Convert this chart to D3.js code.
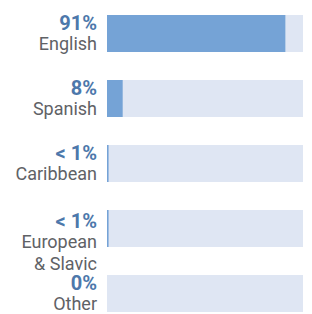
<!DOCTYPE html>
<html>
<head>
<meta charset="utf-8">
<script src="https://cdn.jsdelivr.net/npm/d3@7"></script>
<style>
  body { margin: 0; background: #fff; }
  svg { display: block; font-family: Roboto, "Noto Sans", sans-serif; }
</style>
</head>
<body>
<div id="chart"></div>
<script>
// chart data
const categories = ['English', 'Spanish', 'Caribbean', 'European & Slavic', 'Other'];
const labelLines = [['English'], ['Spanish'], ['Caribbean'], ['European', '& Slavic'], ['Other']];
const shares = [91, 8, 0.8, 0.8, 0];
const shareLabels = ['91%', '8%', '< 1%', '< 1%', '0%'];

const width = 312, height = 314;
const colors = {
    fill: '#75a3d6',
    track: '#dfe6f3',
    pct: '#4d78ab',
    label: '#5f6266'
};

const svg = d3.select('#chart')
    .append('svg')
    .attr('width', width)
    .attr('height', height);

const x = d3.scaleLinear()
    .domain([0, 100])
    .range([107, 303]);

const y = d3.scaleBand()
    .domain(categories)
    .range([15, 312])
    .paddingInner(28 / 65)
    .paddingOuter(0);

const rows = svg.selectAll('g.row')
    .data(categories.map((c, i) => ({cat: c, value: shares[i], pct: shareLabels[i], lines: labelLines[i]})))
    .enter()
    .append('g')
    .attr('class', 'row')
    .attr('transform', d => `translate(0,${y(d.cat)})`);

// background track
rows.append('rect')
    .attr('x', x(0))
    .attr('width', x(100) - x(0))
    .attr('height', y.bandwidth())
    .attr('fill', colors.track);

// value bar
rows.append('rect')
    .attr('x', x(0))
    .attr('width', d => x(d.value) - x(0))
    .attr('height', y.bandwidth())
    .attr('fill', colors.fill);

// label block sits a little lower when the name wraps
const shift = d => (d.lines.length - 1) * 3;

// percentage
rows.append('text')
    .attr('x', 97)
    .attr('y', d => 15 + shift(d))
    .attr('text-anchor', 'end')
    .style('font-size', '20px')
    .style('font-weight', 'bold')
    .style('fill', colors.pct)
    .text(d => d.pct);

// category name (may wrap)
rows.each(function(d) {
    const g = d3.select(this);
    d.lines.forEach((line, j) => {
        g.append('text')
            .attr('x', 97)
            .attr('y', 35 + shift(d) + j * 22)
            .attr('text-anchor', 'end')
            .style('font-size', '18px')
            .style('fill', colors.label)
            .text(line);
    });
});
</script>
</body>
</html>
